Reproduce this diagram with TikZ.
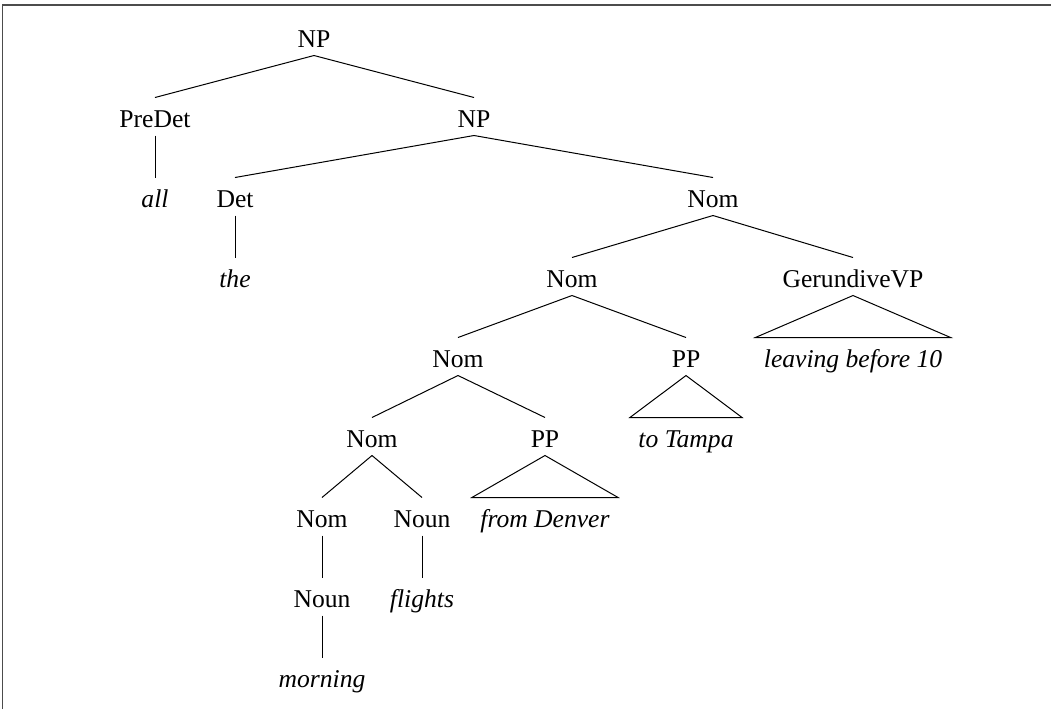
\documentclass[tikz,border=0pt]{standalone}
\usepackage{fontspec}
\setmainfont{Liberation Serif}
\newcommand{\treesize}{\fontsize{12.8}{15}\selectfont}
\begin{document}
\begin{tikzpicture}[x=0.5pt,y=-0.5pt,line width=0.5pt,
  cat/.style={anchor=base,inner xsep=4pt,inner ysep=4pt,text height=10.5pt,text depth=0pt,font=\treesize},
  wd/.style={cat,font=\treesize\itshape}]
\useasboundingbox (0,0) rectangle (1051,709);
% frame
\draw[black!70,line width=0.75pt](2.5,709)--(2.5,5)--(1051,5);

\node[cat] (np0) at (314,47) {NP};
\node[cat] (predet) at (155,127) {PreDet};
\node[cat] (np1) at (474,127) {NP};
\node[wd] (all) at (155,207) {all};
\node[cat] (det) at (235,207) {Det};
\node[cat] (nom1) at (713,207) {Nom};
\node[wd] (the) at (235,287) {the};
\node[cat] (nom2) at (572,287) {Nom};
\node[cat] (gvp) at (853,287) {GerundiveVP};
\node[wd] (leaving) at (853,367) {leaving before 10};
\node[cat] (nom3) at (458,367) {Nom};
\node[cat] (pp1) at (686,367) {PP};
\node[wd] (tampa) at (686,447) {to Tampa};
\node[cat] (nom4) at (372,447) {Nom};
\node[cat] (pp2) at (545,447) {PP};
\node[wd] (denver) at (545,527) {from Denver};
\node[cat] (nom5) at (322,527) {Nom};
\node[cat] (noun1) at (422,527) {Noun};
\node[wd] (flights) at (422,607) {flights};
\node[cat] (noun2) at (322,607) {Noun};
\node[wd] (morning) at (322,687) {morning};

% branches
\foreach \a/\b in {np0/predet,np0/np1,predet/all,np1/det,np1/nom1,det/the,
  nom1/nom2,nom1/gvp,nom2/nom3,nom2/pp1,nom3/nom4,nom3/pp2,nom4/nom5,nom4/noun1,
  noun1/flights,nom5/noun2,noun2/morning}
  \draw(\a.south)--(\b.north);
% roofs
\foreach \a/\b in {gvp/leaving,pp1/tampa,pp2/denver}
  \draw(\a.south)--(\b.north west)--(\b.north east)--cycle;
\end{tikzpicture}
\end{document}
